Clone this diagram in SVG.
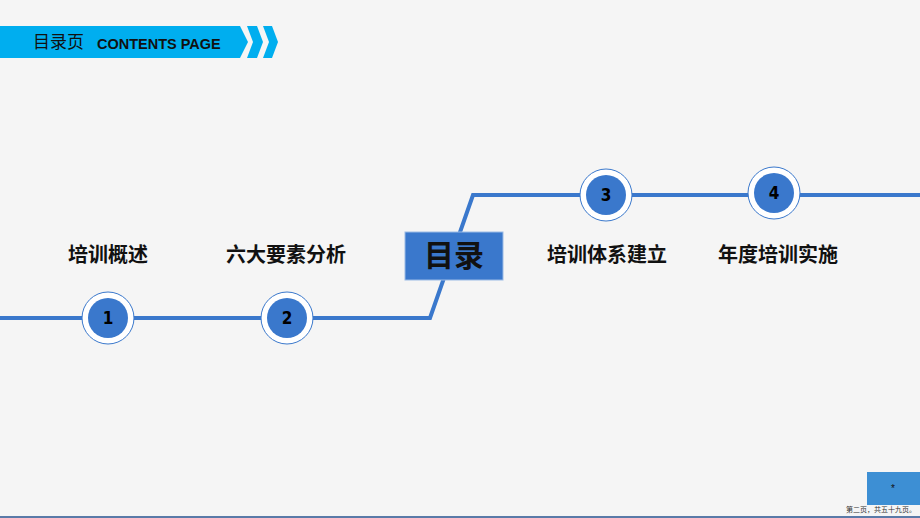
<svg xmlns="http://www.w3.org/2000/svg" width="920" height="518" viewBox="0 0 920 518">
<style>
.cn{font-family:"Noto Sans CJK SC","Noto Sans",sans-serif;font-weight:bold;fill:#111;}
.lbl{font-size:20px;text-anchor:middle;}
.num{font-family:"Liberation Sans Narrow","DejaVu Sans Condensed",sans-serif;font-weight:bold;font-size:17px;fill:#000;text-anchor:middle;}
.outer{fill:#fff;stroke:#3a78cc;stroke-width:1;}
.inner{fill:#3a78cc;}
</style>
<rect width="920" height="518" fill="#f5f5f5"/>
<g id="header">
<polygon points="0,26 240,26 248,42 240,58 0,58" fill="#00aeef"/>
<polygon points="247,26 257,26 263,42 257,58 247,58 253,42" fill="#00aeef"/>
<polygon points="263,26 272,26 278,42 272,58 263,58 269,42" fill="#00aeef"/>
<text x="33" y="48" font-family="Noto Sans CJK SC,sans-serif" font-size="17" fill="#111">目录页</text>
<text x="97" y="49" font-family="Liberation Sans,Arial,sans-serif" font-weight="bold" font-size="14.5" fill="#111">CONTENTS PAGE</text>
</g>
<g id="connectors">
<polyline points="0,318 430,318 473,195 920,195" fill="none" stroke="#3a78cc" stroke-width="4"/>
</g>
<g id="center">
<rect x="405" y="232" width="98" height="48" fill="#3a78cc" stroke="#9bbbe6" stroke-width="1"/>
<text x="454" y="266" class="cn" font-size="30" text-anchor="middle">目录</text>
</g>
<g id="node1">
<circle cx="108" cy="318" r="26" class="outer"/>
<circle cx="108" cy="318" r="20" class="inner"/>
<text x="108" y="324" class="num">1</text>
<text x="108" y="262" class="cn lbl">培训概述</text>
</g>
<g id="node2">
<circle cx="287" cy="318" r="26" class="outer"/>
<circle cx="287" cy="318" r="20" class="inner"/>
<text x="287" y="324" class="num">2</text>
<text x="286" y="262" class="cn lbl">六大要素分析</text>
</g>
<g id="node3">
<circle cx="606" cy="195" r="26" class="outer"/>
<circle cx="606" cy="195" r="20" class="inner"/>
<text x="606" y="201" class="num">3</text>
<text x="607" y="262" class="cn lbl">培训体系建立</text>
</g>
<g id="node4">
<circle cx="774" cy="193" r="26" class="outer"/>
<circle cx="774" cy="193" r="20" class="inner"/>
<text x="774" y="199" class="num">4</text>
<text x="778" y="262" class="cn lbl">年度培训实施</text>
</g>
<g id="footer">
<rect x="867" y="472" width="53" height="33" fill="#3d8fd4"/>
<text x="893" y="492" font-family="Liberation Sans,sans-serif" font-size="10" fill="#111" text-anchor="middle">*</text>
<text x="846" y="512" font-family="Noto Sans CJK SC,sans-serif" font-size="7" fill="#333" textLength="70" lengthAdjust="spacingAndGlyphs">第二页，共五十九页。</text>
<rect x="0" y="516" width="920" height="2" fill="#5a7aa8"/>
</g>
</svg>
